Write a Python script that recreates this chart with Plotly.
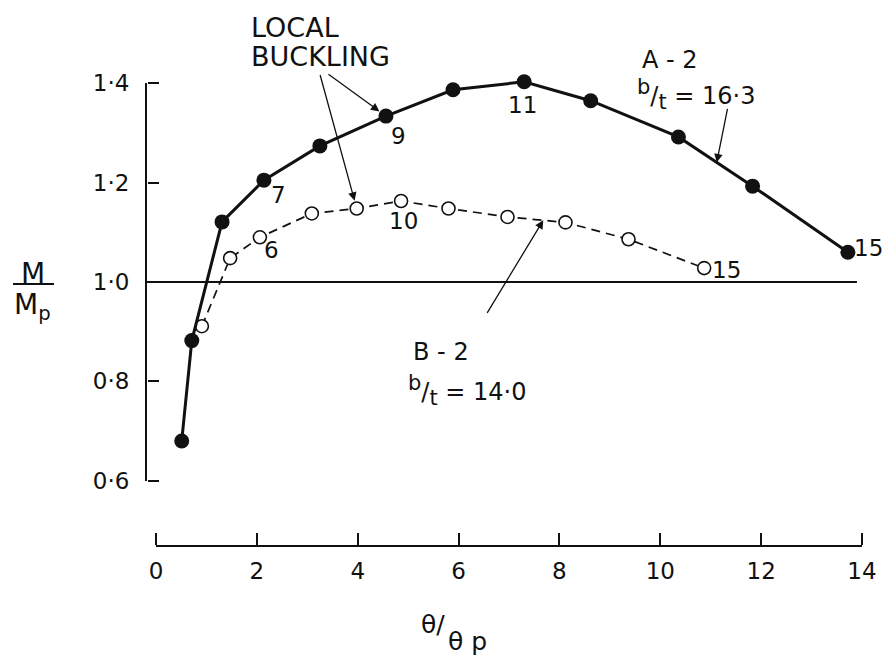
import numpy as np
import plotly.graph_objects as go

# Moment-rotation test results
A_THETA = [0.51, 0.71, 1.31, 2.14, 3.25, 4.56, 5.89, 7.30, 8.62, 10.36, 11.83, 13.72]
A_MOMENT = [0.68, 0.882, 1.121, 1.205, 1.274, 1.334, 1.387, 1.403, 1.365, 1.292, 1.193, 1.060]
B_THETA = [0.91, 1.47, 2.06, 3.09, 3.98, 4.86, 5.80, 6.97, 8.12, 9.37, 10.87]
B_MOMENT = [0.911, 1.048, 1.090, 1.138, 1.148, 1.163, 1.148, 1.131, 1.120, 1.086, 1.028]

# load-step numbers written beside selected points: (index, text, xshift, yshift)
A_STEP_LABELS = [(3, "7", 15, -15), (5, "9", 13, -20), (7, "11", -2, -23), (11, "15", 21, 4)]
B_STEP_LABELS = [(2, "6", 12, -13), (5, "10", 2, -20), (10, "15", 22, -2)]

X_TICKS = [0, 2, 4, 6, 8, 10, 12, 14]
Y_TICKS = [0.6, 0.8, 1.0, 1.2, 1.4]
Y_TICK_TEXT = ["0·6", "0·8", "1·0", "1·2", "1·4"]

FONT = "DejaVu Sans"
INK = "#111111"

# page geometry (pixels)
W, H = 886, 659
PLOT_L, PLOT_R, PLOT_T, PLOT_B = 147, 880, 8, 545
X0_PX, X14_PX = 156.0, 862.0
Y06_PX, Y14_PX = 480.7, 83.3

sx = (X14_PX - X0_PX) / 14.0
sy = (Y06_PX - Y14_PX) / 0.8
x_lo = (PLOT_L - X0_PX) / sx
x_hi = 14 + (PLOT_R - X14_PX) / sx
y_lo = 0.6 - (PLOT_B - Y06_PX) / sy
y_hi = 1.4 + (Y14_PX - PLOT_T) / sy
pw, ph = PLOT_R - PLOT_L, PLOT_B - PLOT_T


def paper_x(px):
    return (px - PLOT_L) / pw


def paper_y(py):
    return (PLOT_B - py) / ph


fig = go.Figure()

fig.add_trace(go.Scatter(
    x=B_THETA, y=B_MOMENT, mode="lines+markers",
    line=dict(color=INK, width=1.7, dash="9px,6px"),
    marker=dict(size=13, color="white", line=dict(color=INK, width=1.6)),
    cliponaxis=False, showlegend=False,
))
fig.add_trace(go.Scatter(
    x=A_THETA, y=A_MOMENT, mode="lines+markers",
    line=dict(color=INK, width=3),
    marker=dict(size=15, color=INK),
    cliponaxis=False, showlegend=False,
))
# carrier traces for the drawn theta / moment axes and their tick-mark companions
for xa_id, ya_id in [("x2", "y"), ("x3", "y"), ("x", "y2"), ("x", "y3")]:
    fig.add_trace(go.Scatter(x=[None], y=[None], xaxis=xa_id, yaxis=ya_id,
                             showlegend=False, hoverinfo="skip"))

# M/Mp = 1.0 reference line
fig.add_shape(type="line", xref="x", yref="y", x0=x_lo, x1=13.9, y0=1.0, y1=1.0,
              line=dict(color=INK, width=2))

tick_font = dict(family=FONT, size=23, color=INK)
x_dom = [paper_x(X0_PX), paper_x(X14_PX)]
y_dom = [paper_y(Y06_PX), paper_y(Y14_PX)]
fig.update_layout(
    width=W, height=H,
    margin=dict(l=PLOT_L, r=W - PLOT_R, t=PLOT_T, b=H - PLOT_B, autoexpand=False),
    paper_bgcolor="white", plot_bgcolor="rgba(0,0,0,0)",
    xaxis=dict(domain=[0, 1], range=[x_lo, x_hi], visible=False),
    yaxis=dict(domain=[0, 1], range=[y_lo, y_hi], visible=False),
    # theta axis: line and numbers
    xaxis2=dict(
        domain=x_dom, range=[0, 14], type="linear", anchor="y", side="bottom",
        tickmode="array", tickvals=X_TICKS, ticktext=[str(v) for v in X_TICKS],
        ticks="", showline=True, linecolor=INK, linewidth=2,
        showgrid=False, zeroline=False, tickfont=tick_font, ticklabelstandoff=4,
    ),
    # theta axis: upward tick marks
    xaxis3=dict(
        domain=x_dom, range=[0, 14], type="linear", anchor="free", position=0, side="top",
        tickmode="array", tickvals=X_TICKS, showticklabels=False,
        ticks="outside", ticklen=12, tickwidth=2, tickcolor=INK,
        showline=False, showgrid=False, zeroline=False,
    ),
    # moment axis: line and numbers
    yaxis2=dict(
        domain=y_dom, range=[0.6, 1.4], type="linear", anchor="x", side="left",
        tickmode="array", tickvals=Y_TICKS, ticktext=Y_TICK_TEXT,
        ticks="", showline=True, linecolor=INK, linewidth=2,
        showgrid=False, zeroline=False, tickfont=tick_font, ticklabelstandoff=11,
    ),
    # moment axis: rightward tick marks
    yaxis3=dict(
        domain=y_dom, range=[0.6, 1.4], type="linear", anchor="free", position=0, side="right",
        tickmode="array", tickvals=Y_TICKS, showticklabels=False,
        ticks="outside", ticklen=11, tickwidth=2, tickcolor=INK,
        showline=False, showgrid=False, zeroline=False,
    ),
)

label_font = dict(family=FONT, size=23, color=INK)
for idx, txt, dx, dy in A_STEP_LABELS:
    fig.add_annotation(x=A_THETA[idx], y=A_MOMENT[idx], text=txt, showarrow=False,
                       xshift=dx, yshift=dy, font=label_font)
for idx, txt, dx, dy in B_STEP_LABELS:
    fig.add_annotation(x=B_THETA[idx], y=B_MOMENT[idx], text=txt, showarrow=False,
                       xshift=dx, yshift=dy, font=label_font)

note_font = dict(family=FONT, size=24, color=INK)
head_font = dict(family=FONT, size=27, color=INK)
fig.add_annotation(xref="paper", yref="paper", x=paper_x(249), y=paper_y(27), text="LOCAL",
                   showarrow=False, xanchor="left", yanchor="middle", font=head_font)
fig.add_annotation(xref="paper", yref="paper", x=paper_x(249), y=paper_y(57), text="BUCKLING",
                   showarrow=False, xanchor="left", yanchor="middle", font=head_font)
arrow = dict(showarrow=True, arrowhead=2, arrowsize=1.3, arrowwidth=1.3, arrowcolor=INK, text="")
fig.add_annotation(x=A_THETA[5], y=A_MOMENT[5], ax=-59, ay=-43, standoff=8, **arrow)
fig.add_annotation(x=B_THETA[4], y=B_MOMENT[4], ax=-37, ay=-135, standoff=8, **arrow)

# b/t ratio written with a raised b and lowered t
RATIO = ("<sup><span style='font-size:21px'>b</span></sup>/"
         "<sub><span style='font-size:21px'>t</span></sub>")

# specimen A-2
fig.add_annotation(x=10.2, y=1.447, text="A - 2", showarrow=False, font=note_font)
fig.add_annotation(x=10.7, y=1.378, text=RATIO + " = 16·3", showarrow=False, font=note_font)
xa = 11.12
fig.add_annotation(x=xa, y=float(np.interp(xa, A_THETA, A_MOMENT)), ax=11, ay=-55, **arrow)

# specimen B-2
fig.add_annotation(x=5.66, y=0.860, text="B - 2", showarrow=False, font=note_font)
fig.add_annotation(x=6.17, y=0.782, text=RATIO + " = 14·0", showarrow=False, font=note_font)
xb = 7.68
fig.add_annotation(x=xb, y=float(np.interp(xb, B_THETA, B_MOMENT)), ax=-57, ay=94, **arrow)

# axis titles
fig.add_annotation(xref="paper", yref="paper", x=paper_x(33), y=paper_y(273), text="M",
                   showarrow=False, xanchor="center", yanchor="middle",
                   font=dict(family=FONT, size=28, color=INK))
fig.add_shape(type="line", xref="paper", yref="paper", x0=paper_x(13), x1=paper_x(54),
              y0=paper_y(284), y1=paper_y(284), line=dict(color=INK, width=2))
fig.add_annotation(xref="paper", yref="paper", x=paper_x(12), y=paper_y(306),
                   text="M<sub>p</sub>", showarrow=False, xanchor="left", yanchor="middle",
                   font=dict(family=FONT, size=28, color=INK))
fig.add_annotation(xref="paper", yref="paper", x=paper_x(419), y=paper_y(624), text="θ/",
                   showarrow=False, xanchor="left", yanchor="middle",
                   font=dict(family=FONT, size=25, color=INK))
fig.add_annotation(xref="paper", yref="paper", x=paper_x(446), y=paper_y(641), text="θ p",
                   showarrow=False, xanchor="left", yanchor="middle",
                   font=dict(family=FONT, size=25, color=INK))

fig.write_html("out.html")
